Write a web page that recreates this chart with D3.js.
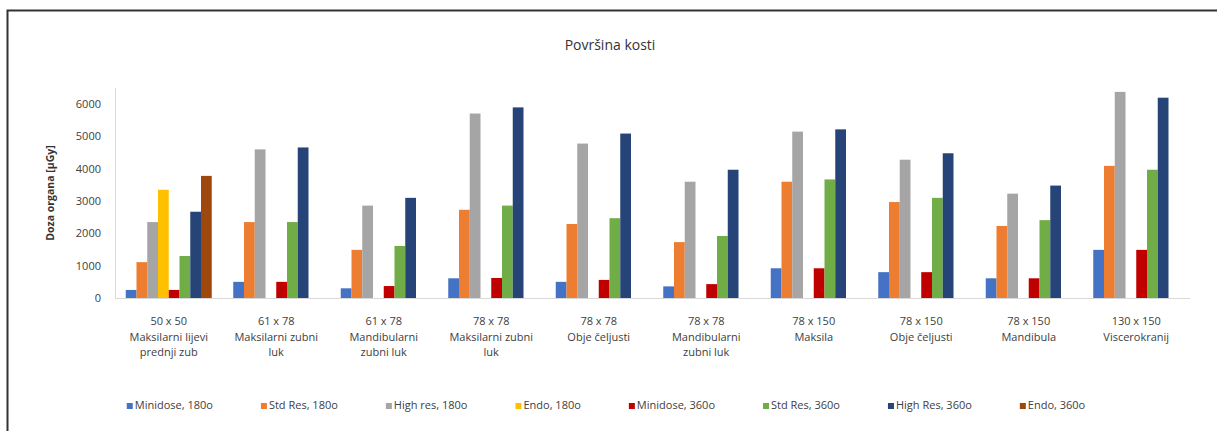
<!DOCTYPE html>
<html>
<head>
<meta charset="utf-8">
<script src="https://cdn.jsdelivr.net/npm/d3@7"></script>
<style>
  html, body { margin: 0; padding: 0; background: #fff; }
  svg { display: block; }
  text { font-family: "Open Sans", "Liberation Sans", sans-serif; }
</style>
</head>
<body>
<svg id="chart" width="1217" height="431"></svg>
<script>
// Field sizes (first label line) and anatomical region (remaining lines)
const categories = ["50 x 50", "61 x 78", "61 x 78", "78 x 78", "78 x 78",
                    "78 x 78", "78 x 150", "78 x 150", "78 x 150", "130 x 150"];
const regionLines = [
  ["Maksilarni lijevi", "prednji zub"],
  ["Maksilarni zubni", "luk"],
  ["Mandibularni", "zubni luk"],
  ["Maksilarni zubni", "luk"],
  ["Obje čeljusti"],
  ["Mandibularni", "zubni luk"],
  ["Maksila"],
  ["Obje čeljusti"],
  ["Mandibula"],
  ["Viscerokranij"]
];

const seriesNames = ["Minidose, 180o", "Std Res, 180o", "High res, 180o", "Endo, 180o",
                     "Minidose, 360o", "Std Res, 360o", "High Res, 360o", "Endo, 360o"];
const seriesColors = ["#4472C4", "#ED7D31", "#A5A5A5", "#FFC000",
                      "#C00000", "#70AD47", "#264478", "#9E480E"];

// Organ dose [µGy] per series, one value per category (null = not measured)
const minidose180 = [250, 500, 300, 610, 500, 360, 920, 800, 610, 1490];
const stdRes180   = [1110, 2350, 1490, 2730, 2290, 1730, 3600, 2970, 2230, 4090];
const highRes180  = [2350, 4600, 2860, 5710, 4780, 3600, 5150, 4280, 3230, 6380];
const endo180     = [3350, null, null, null, null, null, null, null, null, null];
const minidose360 = [250, 500, 370, 620, 560, 430, 920, 800, 610, 1490];
const stdRes360   = [1300, 2350, 1610, 2860, 2470, 1920, 3670, 3100, 2410, 3970];
const highRes360  = [2670, 4660, 3100, 5900, 5090, 3970, 5220, 4480, 3480, 6200];
const endo360     = [3780, null, null, null, null, null, null, null, null, null];

const seriesValues = [minidose180, stdRes180, highRes180, endo180,
                      minidose360, stdRes360, highRes360, endo360];

const yTicks = [0, 1000, 2000, 3000, 4000, 5000, 6000];
const yMax = 6500;

const chartTitle = "Površina kosti";
const yTitle = "Doza organa [μGy]";

const svg = d3.select("#chart");
const textColor = "#404040";
const axisColor = "#D9D9D9";

// Chart frame (top and left edges)
svg.append("path")
  .attr("d", "M7.5,431 V10.5 H1217")
  .attr("fill", "none")
  .attr("stroke", "#333")
  .attr("stroke-width", 2);

const plot = { left: 115, right: 1190, top: 88, bottom: 298 };

const idx = d3.range(categories.length);
const x0 = d3.scaleBand().domain(idx).range([plot.left, plot.right])
  .paddingInner(0.2).paddingOuter(0.1);
const x1 = d3.scaleBand().domain(d3.range(seriesNames.length))
  .range([0, x0.bandwidth()]).padding(0);
const y = d3.scaleLinear().domain([0, yMax]).range([plot.bottom, plot.top]);

// Title
svg.append("text")
  .attr("x", 610).attr("y", 50)
  .attr("text-anchor", "middle")
  .attr("font-size", 14)
  .attr("fill", "#333")
  .text(chartTitle);

// Y axis
const yAxis = d3.axisLeft(y).tickValues(yTicks).tickSize(0).tickPadding(14)
  .tickFormat(d3.format("d"));
const gy = svg.append("g").attr("transform", `translate(${plot.left},0)`).call(yAxis);
gy.select(".domain").attr("stroke", axisColor).attr("d", `M0.5,${plot.top}V${plot.bottom}`);
gy.selectAll("text").attr("font-size", 11).attr("fill", textColor);

// Y axis title
svg.append("text")
  .attr("transform", `translate(54,193) rotate(-90)`)
  .attr("text-anchor", "middle")
  .attr("font-size", 10.5)
  .attr("font-weight", "bold")
  .attr("fill", "#333")
  .text(yTitle);

// Bars
const groups = svg.append("g").selectAll("g")
  .data(idx).join("g")
  .attr("transform", i => `translate(${x0(i)},0)`);

groups.selectAll("rect")
  .data(i => seriesValues.map((vals, s) => ({ s, v: vals[i] })).filter(d => d.v != null))
  .join("rect")
  .attr("x", d => x1(d.s))
  .attr("width", x1.bandwidth())
  .attr("y", d => y(d.v))
  .attr("height", d => y(0) - y(d.v))
  .attr("fill", d => seriesColors[d.s]);

// X axis line
const xAxis = d3.axisBottom(x0).tickSize(0).tickFormat("");
const gx = svg.append("g").attr("transform", `translate(0,${plot.bottom})`).call(xAxis);
gx.select(".domain").attr("stroke", axisColor).attr("d", `M${plot.left},0.5H${plot.right}`);

// Category labels
const labels = svg.append("g").selectAll("text")
  .data(idx).join("text")
  .attr("x", i => x0(i) + x0.bandwidth() / 2)
  .attr("y", 325)
  .attr("text-anchor", "middle")
  .attr("font-size", 11)
  .attr("fill", textColor);
labels.selectAll("tspan")
  .data(i => [categories[i], ...regionLines[i]])
  .join("tspan")
  .attr("x", function () { return d3.select(this.parentNode).attr("x"); })
  .attr("dy", (d, j) => j === 0 ? 0 : 15.5)
  .text(d => d);

// Legend
const legend = svg.append("g");
const items = legend.selectAll("g").data(seriesNames).join("g");
items.append("rect")
  .attr("width", 6).attr("height", 6)
  .attr("y", -6)
  .attr("fill", (d, i) => seriesColors[i]);
items.append("text")
  .attr("x", 8).attr("y", 0)
  .attr("font-size", 11)
  .attr("fill", textColor)
  .text(d => d);
let cursor = 0;
items.each(function () {
  const w = d3.select(this).select("text").node().getComputedTextLength();
  d3.select(this).attr("transform", `translate(${cursor},0)`);
  cursor += 8 + w + 48;
});
const total = cursor - 48;
legend.attr("transform", `translate(${606 - total / 2},409)`);
</script>
</body>
</html>
